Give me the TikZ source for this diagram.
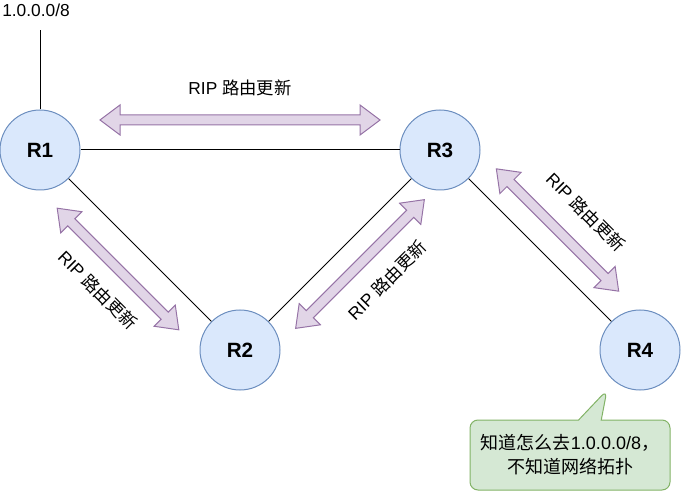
\documentclass[tikz,border=0pt]{standalone}
\usepackage{fontspec}
\setmainfont{Liberation Sans}
\newfontfamily\cjk{Noto Sans CJK SC}
\usetikzlibrary{positioning}
\usetikzlibrary{shapes.callouts}

\definecolor{rtrfill}{HTML}{DAE8FC}
\definecolor{rtrline}{HTML}{6C8EBF}
\definecolor{updfill}{HTML}{E1D5E7}
\definecolor{updline}{HTML}{9673A6}
\definecolor{notefill}{HTML}{D5E8D4}
\definecolor{noteline}{HTML}{82B366}

\tikzset{
router/.style={circle,draw=rtrline,fill=rtrfill,line width=0.75pt,minimum size=60pt,inner sep=0pt,font=\fontsize{15.5}{18}\selectfont\bfseries},
link/.style={draw=black,line width=0.75pt},
upd/.style={fill=updfill,draw=updline,line width=0.75pt,line join=miter},
updtext/.style={font=\fontsize{13}{18}\selectfont,inner sep=0pt},
note/.style={rectangle callout,fill=notefill,draw=noteline,line width=0.75pt,rounded corners=6pt,align=center,font=\fontsize{13.5}{18}\selectfont}
}

% double arrow: centre, angle, length (px)
\newcommand{\ripArrow}[3]{%
\begin{scope}[shift={#1},rotate=#2]
\draw[upd] (-#3/2,0) -- (-#3/2+20,15) -- (-#3/2+20,5) -- (#3/2-20,5) -- (#3/2-20,15) -- (#3/2,0)
 -- (#3/2-20,-15) -- (#3/2-20,-5) -- (-#3/2+20,-5) -- (-#3/2+20,-15) -- cycle;
\end{scope}}

\begin{document}
\begin{tikzpicture}[x=0.75pt,y=-0.75pt]
\useasboundingbox (0,0) rectangle (681,491);

\node[router] (r1) at (40,150) {R1};
\node[router] (r2) at (240,350) {R2};
\node[router] (r3) at (440,150) {R3};
\node[router] (r4) at (640,350) {R4};

\coordinate (net) at (40,30);
\node[updtext] (netlbl) at (36,10) {1.0.0.0/8};

\draw[link] (r1) -- (net);
\draw[link] (r1) -- (r3);
\draw[link] (r1) -- (r2);
\draw[link] (r2) -- (r3);
\draw[link] (r3) -- (r4);

\ripArrow{(240,120)}{0}{280}
\ripArrow{(118,269)}{-45}{172}
\ripArrow{(360,264)}{45}{182}
\ripArrow{(557.5,230)}{-45}{173}

\node[updtext] (upd13) at (240,88) {RIP {\cjk 路由更新}};
\node[updtext,rotate=-45] (upd12) at (98,290) {RIP {\cjk 路由更新}};
\node[updtext,rotate=45] (upd23) at (387,280) {RIP {\cjk 路由更新}};
\node[updtext,rotate=-45] (upd34) at (586,212) {RIP {\cjk 路由更新}};

\node[note,callout absolute pointer={(607,390)},callout pointer width=17pt,minimum width=150pt,minimum height=52.5pt] (r4note) at (570,455)
 {{\cjk 知道怎么去}1.0.0.0/8{\cjk ，}\\{\cjk 不知道网络拓扑}};

\end{tikzpicture}
\end{document}
